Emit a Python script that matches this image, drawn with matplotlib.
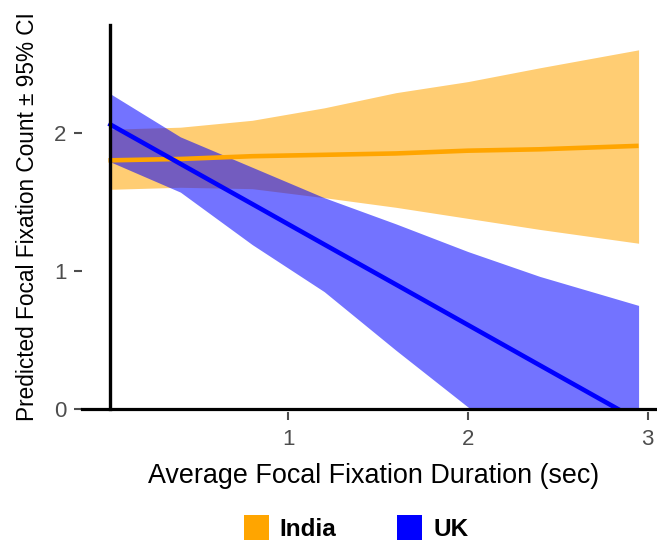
import matplotlib
matplotlib.use('Agg')
import matplotlib.pyplot as plt
from matplotlib.patches import Patch

plt.rcParams['font.family'] = ['Liberation Sans', 'DejaVu Sans']

# Model predictions vs average focal fixation duration
groups = ['India', 'UK']
colors = {'India': '#FFA500', 'UK': '#0000FF'}

duration = [0, 0.4, 0.8, 1.2, 1.6, 2.0, 2.4, 2.95]

india_fit = [1.80, 1.81, 1.83, 1.84, 1.85, 1.87, 1.88, 1.905]
india_lower = [1.59, 1.605, 1.595, 1.53, 1.46, 1.38, 1.30, 1.20]
india_upper = [2.025, 2.04, 2.09, 2.18, 2.29, 2.37, 2.47, 2.60]

uk_fit = [2.067, 1.775, 1.484, 1.192, 0.901, 0.609, 0.317, -0.084]
uk_lower = [1.795, 1.57, 1.19, 0.85, 0.425, 0.015, -0.39, -0.93]
uk_upper = [2.29, 1.97, 1.75, 1.53, 1.34, 1.14, 0.96, 0.75]

x_ticks = [1, 2, 3]
y_ticks = [0, 1, 2]

fig = plt.figure(figsize=(6.57, 5.45), dpi=100)
ax = fig.add_axes([0.1248, 0.2495, 0.8875, 0.7047])

# CI ribbons first, fitted lines on top
ax.fill_between(duration, india_lower, india_upper, color=colors['India'],
                alpha=0.55, linewidth=0)
ax.fill_between(duration, uk_lower, uk_upper, color=colors['UK'],
                alpha=0.55, linewidth=0)
ax.plot(duration, india_fit, color=colors['India'], lw=3.3, solid_capstyle='butt')
ax.plot(duration, uk_fit, color=colors['UK'], lw=3.3, solid_capstyle='butt')

# reference lines at zero
ax.axhline(0, color='black', lw=2.3, zorder=5, clip_on=False)
ax.axvline(0.008, color='black', lw=2.4, zorder=5, clip_on=False)

ax.set_xlim(-0.1475, 3.0975)
ax.set_ylim(0, 2.78)
for s in ax.spines.values():
    s.set_visible(False)
ax.spines['bottom'].set_position(('outward', 2.5))

ax.set_xticks(x_ticks)
ax.set_yticks(y_ticks)
ax.tick_params(axis='both', colors='#4d4d4d', labelsize=16, length=6, width=1.5)
ax.tick_params(axis='x', pad=6)
ax.tick_params(axis='y', pad=5)

ax.set_xlabel('Average Focal Fixation Duration (sec)', fontsize=19.4, labelpad=9)
ax.set_ylabel('Predicted Focal Fixation Count \u00b1 95% CI', fontsize=16.3, labelpad=11)

handles = [Patch(facecolor=colors[g], edgecolor='none') for g in groups]
fig.legend(handles, groups, loc='center', bbox_to_anchor=(0.542, 0.031), ncol=2,
           frameon=False, handlelength=1.03, handleheight=1.15, handletextpad=0.45,
           columnspacing=2.5, prop={'weight': 'bold', 'size': 17.5})

fig.savefig('out.png', dpi=100)
